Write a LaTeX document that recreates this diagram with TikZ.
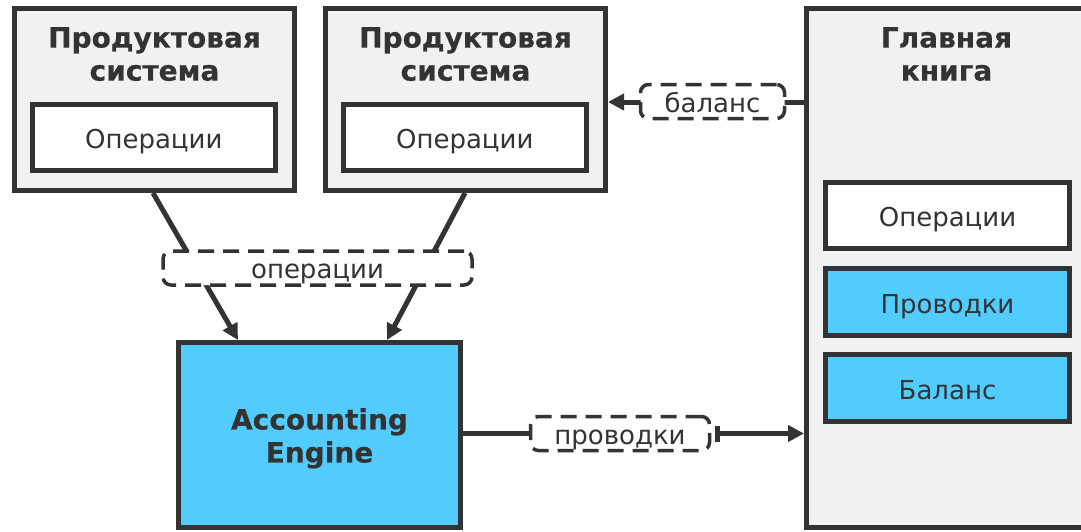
\documentclass[tikz,border=0pt]{standalone}
\usepackage{fontspec}
\setmainfont{DejaVu Sans}
\newfontfamily\headfont{DejaVu Sans}[BoldFeatures={FakeBold=0.4}]
\usetikzlibrary{arrows.meta,calc}
\definecolor{ink}{HTML}{333333}
\definecolor{panel}{HTML}{F1F1F1}
\definecolor{sky}{HTML}{52CCFF}
\tikzset{
  sys/.style={draw=ink, line width=5pt, fill=panel, minimum width=280pt,
    minimum height=182pt, inner sep=0pt},
  item/.style={draw=ink, line width=5pt, fill=white, minimum width=243.5pt,
    minimum height=66.5pt, inner sep=0pt, text=ink, text height=22pt,
    text depth=0pt, font=\fontsize{26}{32}\selectfont},
  blueitem/.style={item, fill=sky},
  heading/.style={font=\headfont\bfseries\fontsize{28}{33}\selectfont,
    text=ink, align=center, inner sep=0pt, anchor=north},
  tag/.style={draw=ink, line width=3.5pt, dash pattern=on 16pt off 9pt,
    rounded corners=8pt, fill=white, minimum height=34pt, inner sep=0pt,
    text=ink, text height=21pt, text depth=0pt,
    font=\fontsize{26}{32}\selectfont},
  flow/.style={draw=ink, line width=5pt, -{Triangle[length=16pt,width=16pt]}},
  plain/.style={draw=ink, line width=5pt},
}
\begin{document}
\begin{tikzpicture}[x=1pt,y=-1pt]
\useasboundingbox (0,0) rectangle (1081,531);
\clip (0,0) rectangle (1081,531);
\fill[white] (0,0) rectangle (1081,531);

% product systems
\node[sys] (A) at (154.5,99.5) {};
\node[heading] (Atitle) at (154.5,27) {Продуктовая\\система};
\node[item] (Aops) at (153.75,137.25) {Операции};

\node[sys] (B) at (465.5,99.5) {};
\node[heading] (Btitle) at (465.5,27) {Продуктовая\\система};
\node[item] (Bops) at (464.75,137.25) {Операции};

% general ledger
\node[sys, minimum height=518.5pt] (L) at (946.5,267.75) {};
\node[heading] (Ltitle) at (946.5,27) {Главная\\книга};
\node[item] (Lops) at (947.5,215.5) {Операции};
\node[blueitem] (Lpost) at (947.5,302) {Проводки};
\node[blueitem] (Lbal) at (947.5,388) {Баланс};

% accounting engine
\node[sys, fill=sky, minimum width=282pt, minimum height=185pt] (E)
  at (319.5,435) {};
\node[heading] (Etitle) at (319.5,408) {Accounting\\Engine};

% operations flow into the engine
\draw[flow] ([xshift=-1.5pt]A.south) -- ([xshift=-81.5pt]E.north);
\draw[flow] ([xshift=-0.5pt]B.south) -- ([xshift=67.5pt]E.north);
\node[tag, minimum width=309pt] (ops) at (317.5,268) {операции};

% balance back to the product system
\draw[flow] (L.west |- 0,102) -- (B.east |- 0,102);
\node[tag, minimum width=144pt] (bal) at (712.5,101.5) {баланс};

% postings into the ledger
\node[tag, minimum width=179pt] (post) at (620,433.5) {проводки};
\draw[plain] (E.east |- post.west) -- (post.west);
\draw[flow, {Bar[width=16pt,line width=5pt]}-{Triangle[length=16pt,width=16pt]}]
  ([xshift=4pt]post.east) -- (L.west |- post.east);
\end{tikzpicture}
\end{document}
